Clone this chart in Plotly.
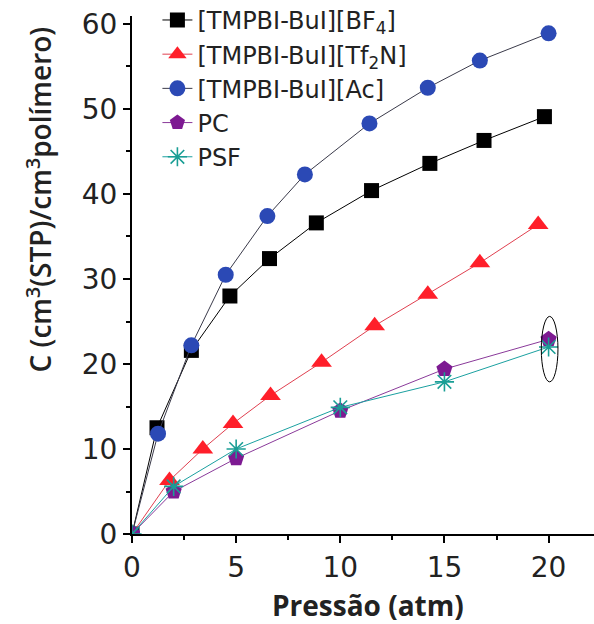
import plotly.graph_objects as go

# Data
bf4_x = [0, 1.2, 2.85, 4.7, 6.6, 8.85, 11.5, 14.3, 16.9, 19.8]
bf4_y = [0, 12.5, 21.6, 28.0, 32.4, 36.6, 40.4, 43.6, 46.3, 49.1]

tf2n_x = [0, 1.8, 3.4, 4.85, 6.65, 9.1, 11.65, 14.2, 16.7, 19.5]
tf2n_y = [0, 6.3, 10.0, 13.0, 16.3, 20.2, 24.5, 28.2, 31.9, 36.4]

ac_x = [0, 1.25, 2.85, 4.5, 6.5, 8.3, 11.4, 14.2, 16.7, 20.0]
ac_y = [0, 11.8, 22.2, 30.5, 37.4, 42.3, 48.3, 52.5, 55.7, 58.9]

pc_x = [0, 2.0, 5.0, 10.0, 15.0, 20.0]
pc_y = [0, 5.0, 8.9, 14.5, 19.4, 22.9]

psf_x = [0, 2.0, 5.0, 10.0, 15.0, 20.0]
psf_y = [0, 5.6, 10.0, 14.9, 17.9, 22.0]

names = ["[TMPBI-BuI][BF<sub>4</sub>]", "[TMPBI-BuI][Tf<sub>2</sub>N]",
         "[TMPBI-BuI][Ac]", "PC", "PSF"]

x_ticks = [0, 5, 10, 15, 20]
y_ticks = [0, 10, 20, 30, 40, 50, 60]

fig = go.Figure()

series = [
    (bf4_x, bf4_y, names[0], "square", "#000000", "#000000", 15),
    (tf2n_x, tf2n_y, names[1], "triangle-up", "#ff1f2a", "#e04050", 18),
    (ac_x, ac_y, names[2], "circle", "#2b49b5", "#3a3a4a", 16),
    (pc_x, pc_y, names[3], "pentagon", "#7d1a92", "#8a3a9a", 17),
    (psf_x, psf_y, names[4], "asterisk-open", "#1a9e95", "#1aa0a0", 16),
]
for xs, ys, nm, sym, mc, lc, sz in series:
    mk = dict(symbol=sym, color=mc, size=sz)
    if sym == "asterisk-open":
        mk["line"] = dict(color=mc, width=1.6)
    fig.add_trace(go.Scatter(
        x=xs, y=ys, name=nm, mode="lines+markers",
        marker=mk, line=dict(color=lc, width=1),
    ))

# ellipse around the last PC / PSF points
fig.add_shape(type="circle", xref="x", yref="y", x0=19.65, x1=20.45,
              y0=17.9, y1=25.6, line=dict(color="black", width=1))

axis_common = dict(
    showline=True, linecolor="black", linewidth=2, showgrid=False,
    zeroline=False, ticks="outside", ticklen=7, tickwidth=1.5,
    tickcolor="black", mirror=False,
    tickfont=dict(family="DejaVu Sans", size=28, color="#222222"),
)
fig.update_xaxes(range=[0, 22.18], tickvals=x_ticks,
                 minor=dict(ticks="outside", ticklen=4, dtick=2.5, tickcolor="black"),
                 **axis_common)
fig.update_yaxes(range=[0, 60.94], tickvals=y_ticks,
                 minor=dict(ticks="outside", ticklen=4, dtick=5, tickcolor="black"),
                 **axis_common)

fig.add_annotation(text="Pressão (atm)", xref="paper", yref="paper",
                   x=0.51, y=-0.137, showarrow=False, xanchor="center", yanchor="middle",
                   font=dict(family="Open Sans", size=28, color="#222222", weight="bold"))
fig.add_annotation(text="C (cm<sup>3</sup>(STP)/cm<sup>3</sup>polímero)",
                   xref="paper", yref="paper", x=-0.2, y=0.645, textangle=-90,
                   showarrow=False, xanchor="center", yanchor="middle",
                   font=dict(family="Open Sans", size=28, color="#222222", weight=600))

fig.update_layout(
    width=594, height=624,
    margin=dict(l=132, r=0, t=16, b=90, autoexpand=False),
    paper_bgcolor="white", plot_bgcolor="white",
    showlegend=True,
    legend=dict(x=0.055, y=1.035, xanchor="left", yanchor="top",
                bgcolor="rgba(0,0,0,0)", tracegroupgap=0,
                font=dict(family="DejaVu Sans", size=24, color="#222222")),
)

fig.write_html("out.html")
